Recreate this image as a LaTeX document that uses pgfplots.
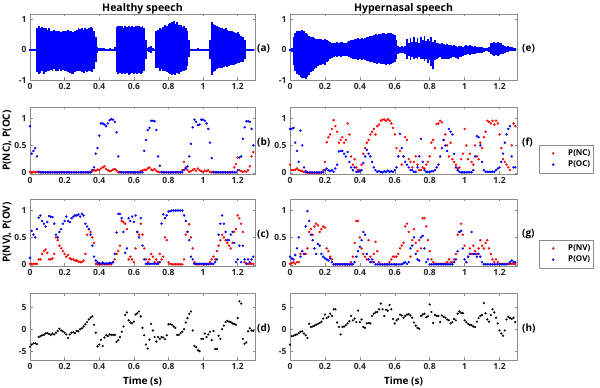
\documentclass[border=0pt]{standalone}
\usepackage{fontspec}
\setmainfont{Open Sans}
\usepackage{pgfplots}
\usepackage{pgfplotstable}
\pgfplotsset{compat=1.18}

% one row per 10 ms frame
% b: P(NC),P(OC) healthy   c: P(NV),P(OV) healthy   d: healthy bottom panel
% f,g,h: same for hypernasal; a/e: waveform envelope (upper, lower)
\pgfplotstableread{
t bnc boc cnv cov d fnc foc gnv gov h aup alo eup elo
0.00 0.02 0.85 0.02 0.13 -4.0 0.15 0.80 0.02 0.15 -3.5 0.02 -0.02 0.02 -0.02
0.01 0.01 0.35 0.02 0.62 -3.5 0.05 0.80 0.03 0.12 -1.6 0.02 -0.02 0.05 -0.08
0.02 0.02 0.40 0.02 0.55 -3.2 0.05 0.82 0.05 0.10 -1.5 0.02 -0.02 0.40 -0.50
0.03 0.01 0.45 0.02 0.50 -3.2 0.06 0.55 0.02 0.18 -1.3 0.02 -0.02 0.55 -0.70
0.04 0.02 0.30 0.02 0.65 -3.4 0.08 0.40 0.05 0.30 -1.2 0.70 -0.75 0.60 -0.80
0.05 0.01 0.02 0.10 0.86 -1.8 0.05 0.20 0.05 0.50 -0.9 0.78 -0.80 0.62 -0.85
0.06 0.01 0.01 0.10 0.90 -1.6 0.04 0.77 0.20 0.15 -0.6 0.72 -0.78 0.60 -0.90
0.07 0.01 0.01 0.20 0.80 -1.4 0.03 0.50 0.25 0.25 -0.5 0.75 -0.70 0.65 -0.92
0.08 0.01 0.01 0.25 0.75 -1.3 0.02 0.10 0.20 0.20 -1.0 0.70 -0.80 0.60 -0.95
0.09 0.01 0.01 0.28 0.70 -1.0 0.01 0.03 0.20 0.70 -1.4 0.72 -0.75 0.55 -0.97
0.10 0.01 0.01 0.22 0.78 -0.9 0.00 0.01 0.30 0.98 -2.0 0.65 -0.70 0.50 -0.90
0.11 0.01 0.01 0.10 0.89 -1.1 0.00 0.01 0.60 0.80 1.2 0.70 -0.72 0.45 -0.85
0.12 0.01 0.01 0.10 0.88 -1.3 0.00 0.01 0.65 0.55 0.5 0.62 -0.68 0.42 -0.75
0.13 0.01 0.01 0.12 0.87 -1.0 0.00 0.01 0.55 0.45 0.6 0.60 -0.70 0.40 -0.70
0.14 0.01 0.01 0.20 0.75 -1.2 0.00 0.01 0.70 0.30 0.8 0.65 -0.65 0.38 -0.65
0.15 0.01 0.01 0.50 0.55 -0.8 0.00 0.01 0.75 0.20 1.0 0.60 -0.70 0.36 -0.60
0.16 0.01 0.01 0.45 0.50 -0.4 0.00 0.01 0.72 0.38 1.2 0.62 -0.72 0.35 -0.55
0.17 0.01 0.01 0.35 0.60 0.1 0.00 0.01 0.60 0.35 1.4 0.60 -0.65 0.36 -0.52
0.18 0.01 0.01 0.30 0.65 -0.3 0.00 0.01 0.65 0.20 1.7 0.58 -0.70 0.34 -0.50
0.19 0.01 0.01 0.25 0.75 -0.5 0.05 0.01 0.70 0.15 2.4 0.60 -0.68 0.32 -0.48
0.20 0.01 0.01 0.20 0.80 -0.8 0.20 0.05 0.68 0.12 3.3 0.62 -0.72 0.35 -0.50
0.21 0.01 0.01 0.15 0.88 -1.2 0.56 0.08 0.30 0.10 2.5 0.60 -0.70 0.30 -0.42
0.22 0.01 0.01 0.18 0.80 -2.0 0.65 0.05 0.25 0.08 2.8 0.65 -0.75 0.28 -0.38
0.23 0.01 0.01 0.12 0.78 -1.2 0.70 0.03 0.15 0.12 3.5 0.60 -0.78 0.25 -0.32
0.24 0.01 0.01 0.10 0.85 -0.8 0.80 0.05 0.10 0.05 3.0 0.62 -0.80 0.22 -0.28
0.25 0.01 0.01 0.10 0.88 -0.7 0.96 0.02 0.01 0.01 4.5 0.58 -0.80 0.20 -0.25
0.26 0.01 0.01 0.08 0.90 -0.9 0.85 0.08 0.01 0.01 4.5 0.60 -0.75 0.22 -0.22
0.27 0.01 0.01 0.08 0.90 -0.4 0.75 0.15 0.01 0.01 1.5 0.65 -0.70 0.24 -0.25
0.28 0.01 0.01 0.06 0.92 -0.5 0.55 0.39 0.01 0.01 0.5 0.70 -0.72 0.22 -0.22
0.29 0.01 0.01 0.05 0.88 0.0 0.60 0.40 0.01 0.01 -1.2 0.68 -0.70 0.25 -0.24
0.30 0.01 0.01 0.05 0.93 0.2 0.65 0.40 0.01 0.01 0.5 0.70 -0.75 0.24 -0.22
0.31 0.01 0.01 0.08 0.90 0.6 0.55 0.35 0.01 0.01 0.6 0.65 -0.78 0.22 -0.20
0.32 0.01 0.01 0.20 0.75 1.1 0.60 0.30 0.01 0.01 0.9 0.70 -0.72 0.20 -0.20
0.33 0.01 0.01 0.55 0.70 1.6 0.90 0.38 0.01 0.01 1.3 0.68 -0.75 0.24 -0.22
0.34 0.01 0.01 0.65 0.65 2.2 0.70 0.20 0.01 0.01 1.8 0.72 -0.72 0.28 -0.25
0.35 0.01 0.01 0.60 0.55 2.6 0.30 0.10 0.05 0.01 3.0 0.75 -0.70 0.30 -0.28
0.36 0.03 0.05 0.50 0.35 2.9 0.15 0.05 0.15 0.01 2.0 0.70 -0.75 0.32 -0.30
0.37 0.05 0.10 0.40 0.15 1.0 0.25 0.10 0.40 0.05 2.4 0.60 -0.65 0.34 -0.32
0.38 0.04 0.35 0.02 0.08 -0.8 0.10 0.02 0.80 0.15 1.6 0.40 -0.40 0.36 -0.30
0.39 0.06 0.45 0.01 0.05 -3.9 0.05 0.02 0.80 0.25 4.2 0.10 -0.10 0.38 -0.33
0.40 0.05 0.68 0.01 0.03 -3.5 0.05 0.03 0.50 0.33 1.6 0.05 -0.05 0.35 -0.32
0.41 0.08 0.90 0.01 0.02 -2.4 0.15 0.05 0.30 0.45 2.2 0.04 -0.03 0.37 -0.34
0.42 0.10 0.90 0.01 0.04 -3.8 0.35 0.18 0.20 0.60 0.5 0.06 -0.05 0.36 -0.32
0.43 0.12 0.88 0.01 0.02 -1.9 0.45 0.30 0.15 0.55 0.3 0.05 -0.04 0.38 -0.35
0.44 0.07 0.85 0.01 0.03 -1.4 0.55 0.42 0.10 0.20 1.3 0.03 -0.03 0.40 -0.36
0.45 0.05 0.90 0.01 0.02 -1.6 0.60 0.35 0.45 0.10 1.4 0.03 -0.03 0.42 -0.38
0.46 0.03 0.96 0.01 0.04 -1.2 0.70 0.30 0.15 0.05 1.3 0.04 -0.03 0.44 -0.40
0.47 0.04 0.98 0.01 0.03 -1.3 0.75 0.20 0.05 0.10 3.0 0.03 -0.03 0.46 -0.42
0.48 0.06 0.97 0.05 0.05 -1.3 0.80 0.10 0.20 0.05 3.5 0.03 -0.02 0.48 -0.44
0.49 0.07 0.93 0.10 0.20 -1.3 0.70 0.05 0.42 0.01 3.8 0.08 -0.06 0.50 -0.45
0.50 0.04 0.74 0.20 0.59 -2.9 0.85 0.02 0.25 0.01 3.9 0.75 -0.75 0.48 -0.46
0.51 0.01 0.30 0.25 0.93 -2.5 0.88 0.03 0.05 0.01 4.5 0.78 -0.80 0.52 -0.45
0.52 0.01 0.02 0.35 0.93 -1.8 0.95 0.02 0.01 0.01 5.8 0.76 -0.78 0.50 -0.48
0.53 0.01 0.01 0.80 0.85 -0.6 0.97 0.01 0.01 0.01 4.5 0.78 -0.80 0.53 -0.47
0.54 0.01 0.01 0.78 0.60 0.6 0.97 0.03 0.01 0.01 3.0 0.72 -0.76 0.55 -0.48
0.55 0.01 0.01 0.75 0.22 3.2 0.95 0.02 0.01 0.01 4.4 0.78 -0.80 0.52 -0.50
0.56 0.01 0.01 0.65 0.30 3.8 0.98 0.04 0.01 0.01 4.2 0.75 -0.78 0.55 -0.48
0.57 0.01 0.01 0.10 0.85 2.0 0.95 0.02 0.05 0.01 5.5 0.78 -0.82 0.56 -0.50
0.58 0.01 0.01 0.15 0.80 1.5 0.90 0.03 0.10 0.01 4.5 0.74 -0.80 0.53 -0.47
0.59 0.01 0.01 0.10 0.88 1.3 0.82 0.02 0.15 0.01 2.3 0.78 -0.78 0.50 -0.45
0.60 0.01 0.01 0.05 0.78 1.7 0.70 0.05 0.15 0.01 1.3 0.75 -0.80 0.48 -0.42
0.61 0.01 0.01 0.30 0.90 3.3 0.45 0.10 0.15 0.01 2.0 0.78 -0.76 0.30 -0.30
0.62 0.01 0.01 0.60 0.60 3.6 0.30 0.30 0.20 0.01 2.3 0.76 -0.80 0.12 -0.15
0.63 0.01 0.01 0.55 0.50 4.0 0.40 0.71 0.30 0.01 3.3 0.78 -0.78 0.10 -0.12
0.64 0.03 0.01 0.75 0.85 2.9 0.15 0.45 0.35 0.01 3.1 0.75 -0.80 0.12 -0.10
0.65 0.04 0.01 0.55 0.35 0.3 0.30 0.30 0.40 0.03 2.6 0.78 -0.76 0.10 -0.12
0.66 0.06 0.40 0.30 0.10 -1.4 0.65 0.20 0.70 0.05 3.0 0.70 -0.72 0.12 -0.15
0.67 0.05 0.60 0.10 0.02 -3.5 0.60 0.15 0.75 0.02 3.3 0.30 -0.30 0.35 -0.30
0.68 0.08 0.78 0.05 0.02 -4.4 0.25 0.10 0.60 0.05 3.4 0.05 -0.05 0.20 -0.22
0.69 0.10 0.82 0.10 0.02 -2.4 0.20 0.05 0.15 0.30 3.1 0.10 -0.08 0.38 -0.35
0.70 0.06 0.95 0.20 0.02 1.2 0.10 0.05 0.45 0.35 2.6 0.12 -0.10 0.25 -0.25
0.71 0.05 0.95 0.15 0.02 -0.3 0.20 0.02 0.65 0.50 1.5 0.05 -0.05 0.42 -0.30
0.72 0.07 0.94 0.05 0.02 -1.8 0.30 0.02 0.40 0.20 0.8 0.03 -0.03 0.25 -0.28
0.73 0.04 0.78 0.10 0.02 -2.8 0.15 0.10 0.25 0.10 0.3 0.60 -0.60 0.38 -0.32
0.74 0.02 0.30 0.05 0.02 -1.8 0.05 0.30 0.45 0.08 0.1 0.65 -0.62 0.22 -0.25
0.75 0.01 0.13 0.20 0.05 -2.2 0.05 0.62 0.30 0.50 3.0 0.70 -0.70 0.40 -0.32
0.76 0.01 0.02 0.10 0.75 -1.8 0.10 0.20 0.85 0.53 3.3 0.68 -0.65 0.30 -0.30
0.77 0.01 0.01 0.15 0.92 -1.9 0.08 0.05 0.85 0.30 3.5 0.75 -0.70 0.45 -0.38
0.78 0.01 0.01 0.50 0.85 -2.3 0.15 0.02 0.70 0.05 2.7 0.80 -0.72 0.28 -0.30
0.79 0.01 0.01 0.45 0.90 -1.4 0.20 0.02 0.45 0.10 2.9 0.78 -0.75 0.35 -0.45
0.80 0.01 0.01 0.05 0.97 1.1 0.30 0.02 0.25 0.01 5.6 0.85 -0.78 0.28 -0.35
0.81 0.01 0.01 0.02 0.98 1.1 0.55 0.03 0.10 0.01 3.9 0.88 -0.80 0.40 -0.55
0.82 0.01 0.01 0.01 0.99 1.0 0.60 0.03 0.05 0.01 1.4 0.92 -0.82 0.25 -0.63
0.83 0.01 0.01 0.01 0.99 0.6 0.45 0.05 0.02 0.01 3.2 0.95 -0.80 0.30 -0.35
0.84 0.01 0.01 0.01 0.99 0.3 0.89 0.10 0.02 0.01 3.0 0.85 -0.85 0.22 -0.30
0.85 0.01 0.01 0.01 0.99 -1.3 0.90 0.15 0.02 0.01 3.0 0.90 -0.78 0.20 -0.28
0.86 0.01 0.01 0.01 0.99 -1.3 0.95 0.30 0.02 0.01 1.6 0.82 -0.80 0.18 -0.25
0.87 0.01 0.01 0.01 0.99 -0.9 0.92 0.45 0.02 0.01 3.1 0.80 -0.75 0.20 -0.30
0.88 0.05 0.01 0.01 0.99 -0.6 0.60 0.60 0.02 0.01 2.8 0.75 -0.70 0.18 -0.32
0.89 0.20 0.05 0.10 0.90 0.0 0.70 0.50 0.02 0.01 2.6 0.78 -0.72 0.16 -0.30
0.90 0.10 0.08 0.55 0.80 1.5 0.50 0.40 0.05 0.01 2.2 0.70 -0.68 0.18 -0.32
0.91 0.05 0.12 0.60 0.60 2.5 0.30 0.80 0.10 0.01 2.0 0.60 -0.55 0.15 -0.30
0.92 0.02 0.30 0.74 0.45 3.5 0.55 0.75 0.05 0.01 1.3 0.30 -0.25 0.14 -0.28
0.93 0.03 0.53 0.50 0.15 4.0 0.25 0.70 0.05 0.01 1.6 0.03 -0.03 0.12 -0.25
0.94 0.05 0.83 0.30 0.10 -0.3 0.20 0.35 0.10 0.05 2.3 0.03 -0.03 0.14 -0.26
0.95 0.07 0.97 0.05 0.02 -3.8 0.15 0.10 0.20 0.10 2.0 0.03 -0.03 0.12 -0.28
0.96 0.04 0.93 0.01 0.02 -4.1 0.08 0.05 0.55 0.25 3.5 0.03 -0.03 0.10 -0.30
0.97 0.08 0.87 0.01 0.02 -4.8 0.10 0.02 0.60 0.60 4.0 0.04 -0.03 0.12 -0.26
0.98 0.05 0.88 0.01 0.02 -5.0 0.25 0.01 0.75 0.62 3.7 0.03 -0.03 0.12 -0.24
0.99 0.03 0.97 0.01 0.02 -2.2 0.35 0.01 0.55 0.30 3.6 0.03 -0.03 0.10 -0.20
1.00 0.02 0.97 0.01 0.02 -2.2 0.80 0.01 0.35 0.10 2.0 0.03 -0.03 0.13 -0.18
1.01 0.04 0.95 0.01 0.02 -1.0 0.50 0.01 0.05 0.05 1.6 0.03 -0.03 0.15 -0.18
1.02 0.03 0.90 0.01 0.02 -1.8 0.25 0.01 0.15 0.15 1.2 0.03 -0.03 0.12 -0.16
1.03 0.05 0.80 0.01 0.02 -1.2 0.35 0.01 0.30 0.20 1.0 0.03 -0.03 0.14 -0.18
1.04 0.02 0.55 0.05 0.02 -0.6 0.20 0.01 0.20 0.60 0.9 0.30 -0.30 0.12 -0.16
1.05 0.01 0.27 0.10 0.02 -2.5 0.15 0.05 0.35 0.20 0.6 0.90 -0.85 0.10 -0.15
1.06 0.01 0.02 0.15 0.02 -0.4 0.50 0.30 0.25 0.20 0.5 0.85 -0.75 0.12 -0.14
1.07 0.01 0.01 0.10 0.05 -4.5 0.30 0.67 0.20 0.15 1.7 0.80 -0.70 0.10 -0.12
1.08 0.01 0.01 0.25 0.10 -4.5 0.25 0.65 0.30 0.20 2.5 0.78 -0.65 0.09 -0.12
1.09 0.01 0.01 0.35 0.55 -1.5 0.55 0.50 0.45 0.15 3.0 0.75 -0.62 0.10 -0.10
1.10 0.01 0.01 0.45 0.75 -2.2 0.45 0.20 0.35 0.05 3.2 0.72 -0.60 0.08 -0.10
1.11 0.01 0.01 0.55 0.90 0.0 0.65 0.05 0.30 0.01 5.9 0.70 -0.60 0.06 -0.08
1.12 0.01 0.01 0.50 0.75 0.8 0.75 0.02 0.40 0.01 3.6 0.68 -0.58 0.05 -0.06
1.13 0.01 0.01 0.45 0.60 1.6 0.95 0.02 0.45 0.01 2.2 0.70 -0.55 0.06 -0.06
1.14 0.01 0.01 0.40 0.45 1.9 0.93 0.02 0.30 0.01 1.7 0.65 -0.58 0.10 -0.08
1.15 0.01 0.01 0.35 0.45 1.7 0.90 0.02 0.20 0.01 3.2 0.62 -0.55 0.20 -0.16
1.16 0.01 0.01 0.30 0.55 1.6 0.95 0.02 0.10 0.01 4.5 0.60 -0.52 0.22 -0.18
1.17 0.02 0.01 0.40 0.60 1.3 0.88 0.02 0.05 0.01 3.8 0.62 -0.50 0.24 -0.20
1.18 0.10 0.01 0.60 0.40 1.2 0.95 0.05 0.10 0.01 2.6 0.58 -0.50 0.22 -0.18
1.19 0.16 0.01 0.65 0.05 1.0 0.90 0.08 0.05 0.01 1.3 0.55 -0.48 0.24 -0.20
1.20 0.28 0.05 0.90 0.10 2.5 0.70 0.10 0.02 0.01 -0.3 0.58 -0.45 0.22 -0.18
1.21 0.05 0.28 0.85 0.35 6.3 0.45 0.20 0.02 0.01 -1.0 0.50 -0.45 0.20 -0.16
1.22 0.03 0.30 0.75 0.05 5.8 0.25 0.35 0.02 0.01 -1.5 0.45 -0.42 0.16 -0.13
1.23 0.02 0.62 0.60 0.35 -2.2 0.20 0.55 0.02 0.01 -0.3 0.42 -0.40 0.12 -0.10
1.24 0.03 0.83 0.05 0.10 -3.3 0.15 0.70 0.02 0.01 2.2 0.30 -0.30 0.10 -0.08
1.25 0.02 0.94 0.02 0.02 -3.0 0.10 0.80 0.02 0.02 2.8 0.02 -0.02 0.12 -0.09
1.26 0.05 0.94 0.02 0.10 -0.5 0.05 0.85 0.02 0.05 2.5 0.02 -0.02 0.08 -0.06
1.27 0.12 0.93 0.02 0.05 0.2 0.50 0.30 0.02 0.08 2.3 0.02 -0.02 0.07 -0.06
1.28 0.30 0.80 0.02 0.10 -0.3 0.90 0.10 0.02 0.05 2.6 0.02 -0.02 0.06 -0.05
1.29 0.38 0.50 0.02 0.15 -0.4 0.85 0.10 0.02 0.05 1.6 0.02 -0.02 0.05 -0.04
}\frames

\newcommand\tickfont{\fontsize{8.5}{10}\selectfont\bfseries}
\newcommand\labfont{\fontsize{10}{12}\selectfont\bfseries}

\pgfplotsset{
  panel/.style={
    scale only axis, height=67pt, anchor=south west,
    xmin=0, xmax=1.3,
    xtick={0,0.2,0.4,0.6,0.8,1,1.2},
    axis line style={draw=black!45},
    every tick/.style={draw=black!45, thin},
    tick align=inside, major tick length=2.5pt,
    ticklabel style={font=\tickfont, text=black!85},
    /pgf/number format/assume math mode=true,
    clip=false,
  },
  lcol/.style={panel, width=225pt},
  rcol/.style={panel, width=227pt},
  wave/.style={ycomb, blue, line width=1.9pt, no marks},
  % the \path gives the legend image its width (a lone mark has none)
  dots/.style={only marks, mark=*, mark size=1pt,
    legend image code/.code={\path (0cm,0cm) (0.9cm,0cm);
      \draw[##1] plot coordinates {(0.45cm,0cm)};}},
  prob/.style={ymin=-0.02, ymax=1.2, ytick={0,0.5,1}},
  legbox/.style={
    legend style={at={(1.097,#1)}, anchor=north west, draw=black!45,
      font=\fontsize{8}{9}\selectfont\bfseries, inner xsep=1pt, inner ysep=2.5pt,
      cells={anchor=west}},
  },
  toptitle/.style={title={#1}, every axis title shift=-4pt,
    title style={font=\fontsize{10.5}{12}\selectfont\bfseries}},
}

\begin{document}
\begin{tikzpicture}
\path[use as bounding box] (0pt,0pt) rectangle (600pt,388pt);

% row 1: waveforms
\begin{axis}[lcol, name=pa, at={(30pt,308pt)}, height=66pt,
    ymin=-1, ymax=1.17, ytick={-1,0,1}, toptitle={Healthy speech}]
  \addplot[wave] table[x=t, y=aup] {\frames};
  \addplot[wave] table[x=t, y=alo] {\frames};
\end{axis}
\begin{axis}[rcol, name=pe, at={(290pt,308pt)}, height=66pt,
    ymin=-1, ymax=1.17, ytick={-1,0,1}, toptitle={Hypernasal speech}]
  \addplot[wave] table[x=t, y=eup] {\frames};
  \addplot[wave] table[x=t, y=elo] {\frames};
\end{axis}

% row 2
\begin{axis}[lcol, prob, name=pb, at={(30pt,214pt)},
    ylabel={P(NC), P(OC)}, ylabel style={font=\labfont}, ylabel shift=-4pt]
  \addplot[dots, red] table[x=t, y=bnc] {\frames};
  \addplot[dots, blue] table[x=t, y=boc] {\frames};
\end{axis}
\begin{axis}[rcol, prob, name=pf, at={(290pt,214pt)}, legbox=0.433]
  \addplot[dots, red] table[x=t, y=fnc] {\frames};
  \addlegendentry{P(NC)}
  \addplot[dots, blue] table[x=t, y=foc] {\frames};
  \addlegendentry{P(OC)}
\end{axis}

% row 3
\begin{axis}[lcol, prob, name=pc, at={(30pt,122pt)},
    ylabel={P(NV), P(OV)}, ylabel style={font=\labfont}, ylabel shift=-4pt]
  \addplot[dots, red] table[x=t, y=cnv] {\frames};
  \addplot[dots, blue] table[x=t, y=cov] {\frames};
\end{axis}
\begin{axis}[rcol, prob, name=pg, at={(290pt,122pt)}, legbox=0.388]
  \addplot[dots, red] table[x=t, y=gnv] {\frames};
  \addlegendentry{P(NV)}
  \addplot[dots, blue] table[x=t, y=gov] {\frames};
  \addlegendentry{P(OV)}
\end{axis}

% row 4
\begin{axis}[lcol, name=pd, at={(30pt,28pt)},
    ymin=-7, ymax=8.2, ytick={-5,0,5},
    xlabel={Time (s)}, xlabel style={font=\labfont}]
  \addplot[dots, black, mark size=0.9pt] table[x=t, y=d] {\frames};
\end{axis}
\begin{axis}[rcol, name=ph, at={(290pt,28pt)},
    ymin=-7, ymax=8.2, ytick={-5,0,5},
    xlabel={Time (s)}, xlabel style={font=\labfont}]
  \addplot[dots, black, mark size=0.9pt] table[x=t, y=h] {\frames};
\end{axis}

% panel letters
\foreach \p/\s in {a/2,b/2,c/2,d/2}
  \node[anchor=west, font=\labfont, inner sep=0pt] at ([xshift=\s pt,yshift=-2pt]p\p.east) {(\p)};
\foreach \p/\s in {e/5,f/5,g/5,h/5}
  \node[anchor=west, font=\labfont, inner sep=0pt] at ([xshift=\s pt,yshift=-2pt]p\p.east) {(\p)};
\end{tikzpicture}
\end{document}
